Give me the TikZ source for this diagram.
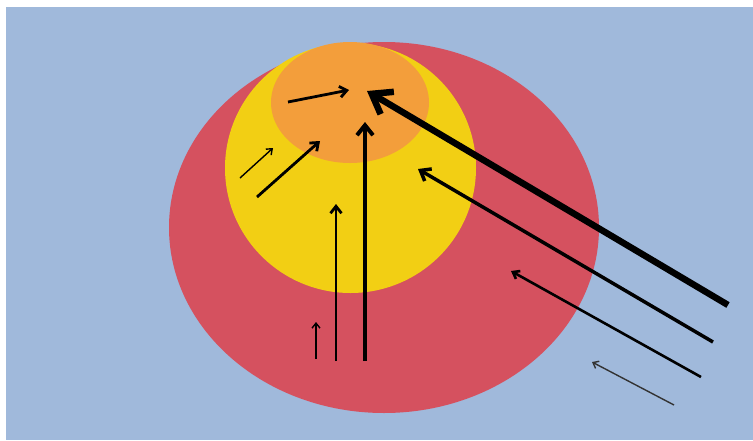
\documentclass[tikz,border=0pt]{standalone}
\usetikzlibrary{arrows.meta}
\definecolor{bgblue}{HTML}{A0B9DB}
\definecolor{redc}{HTML}{D5515F}
\definecolor{yellowc}{HTML}{F2CF14}
\definecolor{orangec}{HTML}{F39E3B}
\tikzset{
  arrbig/.style={line width=6.5pt,-{Straight Barb[length=18pt,width=26pt,line width=6.5pt]}},
  arrthick/.style={line width=4pt,-{Straight Barb[length=10pt,width=16pt]}},
  arrmid/.style={line width=2.8pt,-{Straight Barb[length=7pt,width=11pt]}},
  arrsmall/.style={line width=2.6pt,-{Straight Barb[length=6pt,width=9pt]}},
  arrthin/.style={line width=1.4pt,-{Straight Barb[length=5pt,width=8pt]}},
}
\begin{document}
\begin{tikzpicture}[x=1pt,y=-1pt]
\useasboundingbox (0,0) rectangle (753,440);
\fill[bgblue] (6,7) rectangle (753,440);
\fill[redc] (384,227.5) ellipse [x radius=215pt, y radius=185.5pt];
\fill[yellowc] (350.5,168) ellipse [x radius=125.5pt, y radius=125pt];
\fill[orangec] (350,102.5) ellipse [x radius=79pt, y radius=60.5pt];
% coordinates
\coordinate (a1s) at (288,102); \coordinate (a1e) at (349,90);
\coordinate (a2s) at (728,305); \coordinate (a2e) at (367,91);
\coordinate (a3s) at (257,197); \coordinate (a3e) at (320,141);
\coordinate (a4s) at (240,178); \coordinate (a4e) at (273,148);
\coordinate (a5s) at (336,361); \coordinate (a5e) at (336,204);
\coordinate (a6s) at (365,361); \coordinate (a6e) at (365,122);
\coordinate (a7s) at (316,359); \coordinate (a7e) at (316,322);
\coordinate (a8s) at (713,342); \coordinate (a8e) at (418,169);
\coordinate (a9s) at (701,377); \coordinate (a9e) at (511,271);
\coordinate (a10s) at (674,405); \coordinate (a10e) at (592,362);
% arrows
\draw[arrmid] (a1s) -- (a1e);
\draw[arrbig] (a2s) -- (a2e);
\draw[arrmid] (a3s) -- (a3e);
\draw[arrthin] (a4s) -- (a4e);
\draw[arrmid] (a5s) -- (a5e);
\draw[arrthick] (a6s) -- (a6e);
\draw[arrthin] (a7s) -- (a7e);
\draw[line width=3.5pt,-{Straight Barb[length=9pt,width=14pt]}] (a8s) -- (a8e);
\draw[arrsmall] (a9s) -- (a9e);
\draw[arrthin,draw=black!80] (a10s) -- (a10e);
\end{tikzpicture}
\end{document}
